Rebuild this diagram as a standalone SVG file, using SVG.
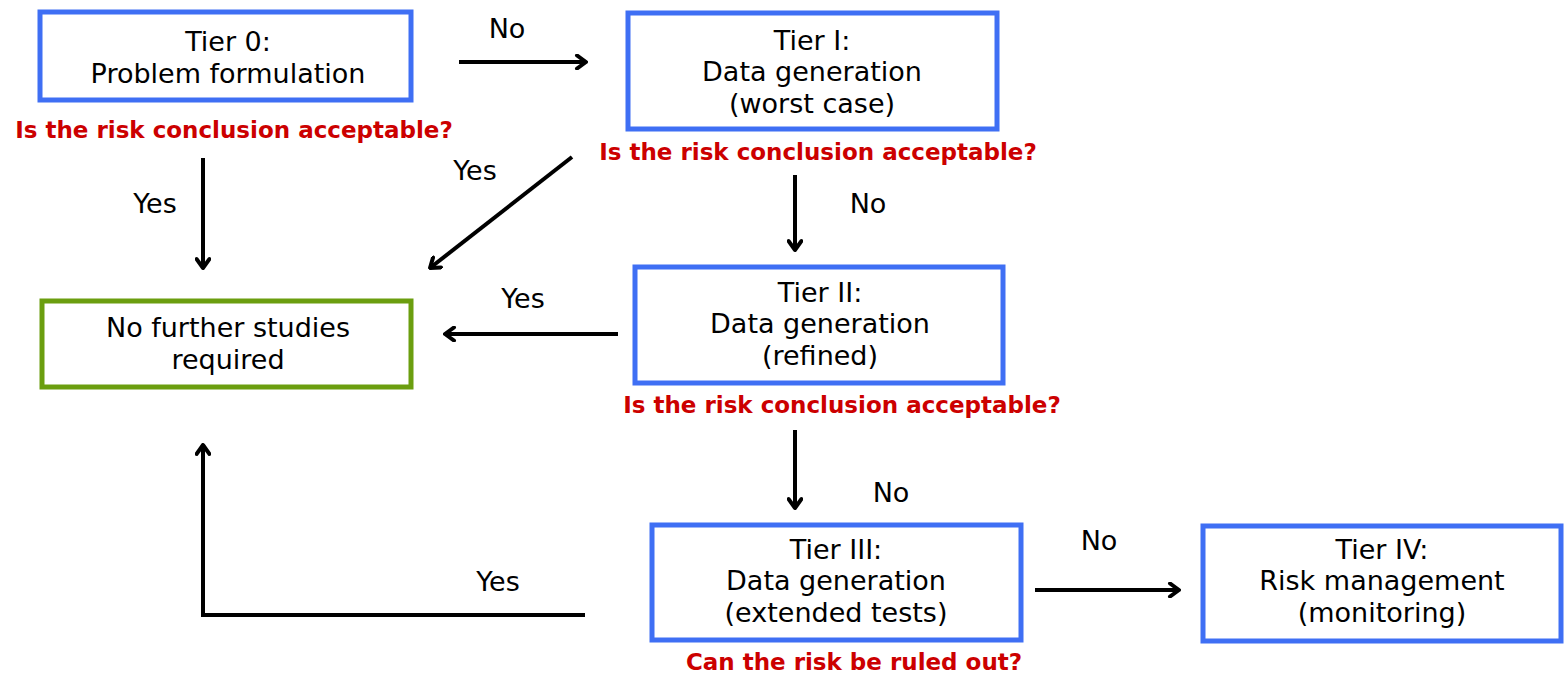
<svg xmlns="http://www.w3.org/2000/svg" width="1564" height="675" viewBox="0 0 1564 675">
<style>
.box{fill:#fff;stroke:#3f6ff4;stroke-width:5}
.green{fill:#fff;stroke:#6b9e0f;stroke-width:5}
.t{font-family:"Comic Sans MS","DejaVu Sans",sans-serif;font-size:27px;fill:#000;text-anchor:middle}
.q{font-family:"Comic Sans MS","DejaVu Sans",sans-serif;font-size:23px;font-weight:bold;fill:#cc0000;text-anchor:middle}
.c{fill:none;stroke:#000;stroke-width:4}
</style>
<defs>
<marker id="ah" viewBox="0 0 16 16" refX="14" refY="8" markerWidth="16" markerHeight="16" markerUnits="userSpaceOnUse" orient="auto">
<path d="M5,1.5 L14,8 L5,14.5" fill="none" stroke="#000" stroke-width="4" stroke-linecap="round" stroke-linejoin="round"/>
</marker>
</defs>
<rect width="1564" height="675" fill="#fff"/>
<g id="connectors">
<line class="c" x1="459" y1="62" x2="586" y2="62" marker-end="url(#ah)"/>
<line class="c" x1="203" y1="158" x2="203" y2="268" marker-end="url(#ah)"/>
<line class="c" x1="572" y1="157" x2="430" y2="268" marker-end="url(#ah)"/>
<line class="c" x1="795" y1="175" x2="795" y2="250" marker-end="url(#ah)"/>
<line class="c" x1="618" y1="334" x2="445" y2="334" marker-end="url(#ah)"/>
<line class="c" x1="795" y1="430" x2="795" y2="508" marker-end="url(#ah)"/>
<line class="c" x1="1035" y1="590" x2="1179" y2="590" marker-end="url(#ah)"/>
<polyline class="c" points="585,615 203,615 203,445" marker-end="url(#ah)"/>
<text class="t" x="507" y="38">No</text>
<text class="t" x="155" y="213">Yes</text>
<text class="t" x="475" y="180">Yes</text>
<text class="t" x="868" y="213">No</text>
<text class="t" x="523" y="308">Yes</text>
<text class="t" x="891" y="502">No</text>
<text class="t" x="1099" y="550">No</text>
<text class="t" x="498" y="591">Yes</text>
</g>
<g id="tier0">
<rect class="box" x="40" y="12" width="371" height="88"/>
<text class="t" x="228" y="51">Tier 0:</text>
<text class="t" x="228" y="82.5">Problem formulation</text>
<text class="q" x="234" y="138">Is the risk conclusion acceptable?</text>
</g>
<g id="tier1">
<rect class="box" x="628" y="13" width="369" height="116"/>
<text class="t" x="812" y="49.5">Tier I:</text>
<text class="t" x="812" y="81">Data generation</text>
<text class="t" x="812" y="112.5">(worst case)</text>
<text class="q" x="818" y="160">Is the risk conclusion acceptable?</text>
</g>
<g id="nofurther">
<rect class="green" x="42" y="301" width="369" height="86"/>
<text class="t" x="228" y="337">No further studies</text>
<text class="t" x="228" y="368.5">required</text>
</g>
<g id="tier2">
<rect class="box" x="635" y="267" width="368" height="116"/>
<text class="t" x="820" y="301.5">Tier II:</text>
<text class="t" x="820" y="333">Data generation</text>
<text class="t" x="820" y="364.5">(refined)</text>
<text class="q" x="842" y="413">Is the risk conclusion acceptable?</text>
</g>
<g id="tier3">
<rect class="box" x="652" y="525" width="369" height="115"/>
<text class="t" x="836" y="558.5">Tier III:</text>
<text class="t" x="836" y="590">Data generation</text>
<text class="t" x="836" y="621.5">(extended tests)</text>
<text class="q" x="854" y="670">Can the risk be ruled out?</text>
</g>
<g id="tier4">
<rect class="box" x="1203" y="526" width="358" height="115"/>
<text class="t" x="1382" y="558.5">Tier IV:</text>
<text class="t" x="1382" y="590">Risk management</text>
<text class="t" x="1382" y="621.5">(monitoring)</text>
</g>
</svg>
